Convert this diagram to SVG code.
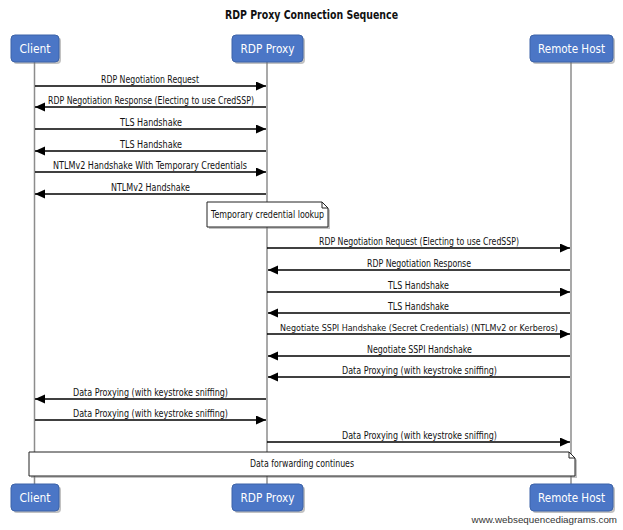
<svg xmlns="http://www.w3.org/2000/svg" width="623" height="530" viewBox="0 0 623 530">
<style>
.t{font-family:"DejaVu Sans","Liberation Sans",sans-serif;font-size:10px;fill:#111;text-anchor:middle}
.title{font-family:"DejaVu Sans","Liberation Sans",sans-serif;font-size:12px;font-weight:bold;fill:#111;text-anchor:middle}
.pl{font-family:"DejaVu Sans","Liberation Sans",sans-serif;font-size:12px;fill:#fff;text-anchor:middle}
.box{fill:#4b76c6;stroke:#3d63a8;stroke-width:1}
.sh{fill:#777;opacity:0.45}
.life{stroke:#8c8c8c;stroke-width:1.5}
.msg{stroke:#000;stroke-width:1.5;fill:none;marker-end:url(#ah)}
.note{fill:#fff;stroke:#222;stroke-width:1}
.wm{font-family:"Liberation Sans",sans-serif;font-size:9.8px;fill:#333;text-anchor:end}
</style>
<defs>
<marker id="ah" markerUnits="userSpaceOnUse" markerWidth="11" markerHeight="10" refX="10" refY="4.5" orient="auto">
<path d="M0,0 L10,4.5 L0,9 z" fill="#000"/>
</marker>
</defs>
<rect width="623" height="530" fill="#fff"/>
<text class="title" x="311.5" y="18.5" textLength="173" lengthAdjust="spacingAndGlyphs">RDP Proxy Connection Sequence</text>

<g id="lifelines">
<line class="life" x1="34.5" y1="62" x2="34.5" y2="485"/>
<line class="life" x1="267" y1="62" x2="267" y2="485"/>
<line class="life" x1="571" y1="62" x2="571" y2="485"/>
</g>

<g id="client">
<rect class="sh" x="13" y="37" width="48" height="27" rx="4"/>
<rect class="box" x="11" y="35" width="48" height="27" rx="4"/>
<text class="pl" x="35" y="53" textLength="31" lengthAdjust="spacingAndGlyphs">Client</text>
<rect class="sh" x="13" y="486" width="48" height="27" rx="4"/>
<rect class="box" x="11" y="484" width="48" height="27" rx="4"/>
<text class="pl" x="35" y="502" textLength="31" lengthAdjust="spacingAndGlyphs">Client</text>
</g>
<g id="proxy">
<rect class="sh" x="234" y="37" width="71" height="27" rx="4"/>
<rect class="box" x="232" y="35" width="71" height="27" rx="4"/>
<text class="pl" x="267.5" y="53" textLength="54" lengthAdjust="spacingAndGlyphs">RDP Proxy</text>
<rect class="sh" x="234" y="486" width="71" height="27" rx="4"/>
<rect class="box" x="232" y="484" width="71" height="27" rx="4"/>
<text class="pl" x="267.5" y="502" textLength="54" lengthAdjust="spacingAndGlyphs">RDP Proxy</text>
</g>
<g id="remote">
<rect class="sh" x="532" y="37" width="83" height="27" rx="4"/>
<rect class="box" x="530" y="35" width="83" height="27" rx="4"/>
<text class="pl" x="571.5" y="53" textLength="67" lengthAdjust="spacingAndGlyphs">Remote Host</text>
<rect class="sh" x="532" y="486" width="83" height="27" rx="4"/>
<rect class="box" x="530" y="484" width="83" height="27" rx="4"/>
<text class="pl" x="571.5" y="502" textLength="67" lengthAdjust="spacingAndGlyphs">Remote Host</text>
</g>

<g id="connectors">
<line class="msg" x1="35" y1="86" x2="266" y2="86"/>
<text class="t" x="150" y="83" textLength="98" lengthAdjust="spacingAndGlyphs">RDP Negotiation Request</text>
<line class="msg" x1="266" y1="107" x2="35" y2="107"/>
<text class="t" x="151" y="104" textLength="206" lengthAdjust="spacingAndGlyphs">RDP Negotiation Response (Electing to use CredSSP)</text>
<line class="msg" x1="35" y1="129" x2="266" y2="129"/>
<text class="t" x="151" y="126" textLength="62" lengthAdjust="spacingAndGlyphs">TLS Handshake</text>
<line class="msg" x1="266" y1="151" x2="35" y2="151"/>
<text class="t" x="151" y="148" textLength="62" lengthAdjust="spacingAndGlyphs">TLS Handshake</text>
<line class="msg" x1="35" y1="172" x2="266" y2="172"/>
<text class="t" x="150" y="169" textLength="194" lengthAdjust="spacingAndGlyphs">NTLMv2 Handshake With Temporary Credentials</text>
<line class="msg" x1="266" y1="194" x2="35" y2="194"/>
<text class="t" x="150.5" y="191" textLength="79" lengthAdjust="spacingAndGlyphs">NTLMv2 Handshake</text>

<line class="msg" x1="267" y1="248" x2="570" y2="248"/>
<text class="t" x="419" y="245" textLength="200" lengthAdjust="spacingAndGlyphs">RDP Negotiation Request (Electing to use CredSSP)</text>
<line class="msg" x1="570" y1="270" x2="268" y2="270"/>
<text class="t" x="419" y="267" textLength="104" lengthAdjust="spacingAndGlyphs">RDP Negotiation Response</text>
<line class="msg" x1="267" y1="292" x2="570" y2="292"/>
<text class="t" x="418.5" y="289" textLength="61" lengthAdjust="spacingAndGlyphs">TLS Handshake</text>
<line class="msg" x1="570" y1="313" x2="268" y2="313"/>
<text class="t" x="418.5" y="310" textLength="61" lengthAdjust="spacingAndGlyphs">TLS Handshake</text>
<line class="msg" x1="267" y1="334" x2="570" y2="334"/>
<text class="t" x="419" y="331" style="font-size:9px" textLength="278" lengthAdjust="spacingAndGlyphs">Negotiate SSPI Handshake (Secret Credentials) (NTLMv2 or Kerberos)</text>
<line class="msg" x1="570" y1="356" x2="268" y2="356"/>
<text class="t" x="419.5" y="353" textLength="105" lengthAdjust="spacingAndGlyphs">Negotiate SSPI Handshake</text>
<line class="msg" x1="570" y1="377" x2="268" y2="377"/>
<text class="t" x="419.5" y="374" textLength="155" lengthAdjust="spacingAndGlyphs">Data Proxying (with keystroke sniffing)</text>
<line class="msg" x1="266" y1="399" x2="35" y2="399"/>
<text class="t" x="150.5" y="396" textLength="155" lengthAdjust="spacingAndGlyphs">Data Proxying (with keystroke sniffing)</text>
<line class="msg" x1="35" y1="420" x2="266" y2="420"/>
<text class="t" x="150.5" y="417" textLength="155" lengthAdjust="spacingAndGlyphs">Data Proxying (with keystroke sniffing)</text>
<line class="msg" x1="267" y1="442" x2="570" y2="442"/>
<text class="t" x="419.5" y="439" textLength="155" lengthAdjust="spacingAndGlyphs">Data Proxying (with keystroke sniffing)</text>
</g>

<g id="note-lookup">
<path class="sh" d="M209,204 H324 L330,210 V229 H209 Z"/>
<path class="note" d="M207,202 H322 L328,208 V227 H207 Z"/>
<path d="M322,202 V208 H328" fill="none" stroke="#222" stroke-width="1"/>
<text class="t" x="267.5" y="218" textLength="113" lengthAdjust="spacingAndGlyphs">Temporary credential lookup</text>
</g>

<g id="note-forwarding">
<path class="sh" d="M31,454 H571 L577,460 V478 H31 Z"/>
<path class="note" d="M29,452 H569 L575,458 V476 H29 Z"/>
<path d="M569,452 V458 H575" fill="none" stroke="#222" stroke-width="1"/>
<text class="t" x="302" y="467" textLength="104" lengthAdjust="spacingAndGlyphs">Data forwarding continues</text>
</g>

<text class="wm" x="617" y="523">www.websequencediagrams.com</text>
</svg>
